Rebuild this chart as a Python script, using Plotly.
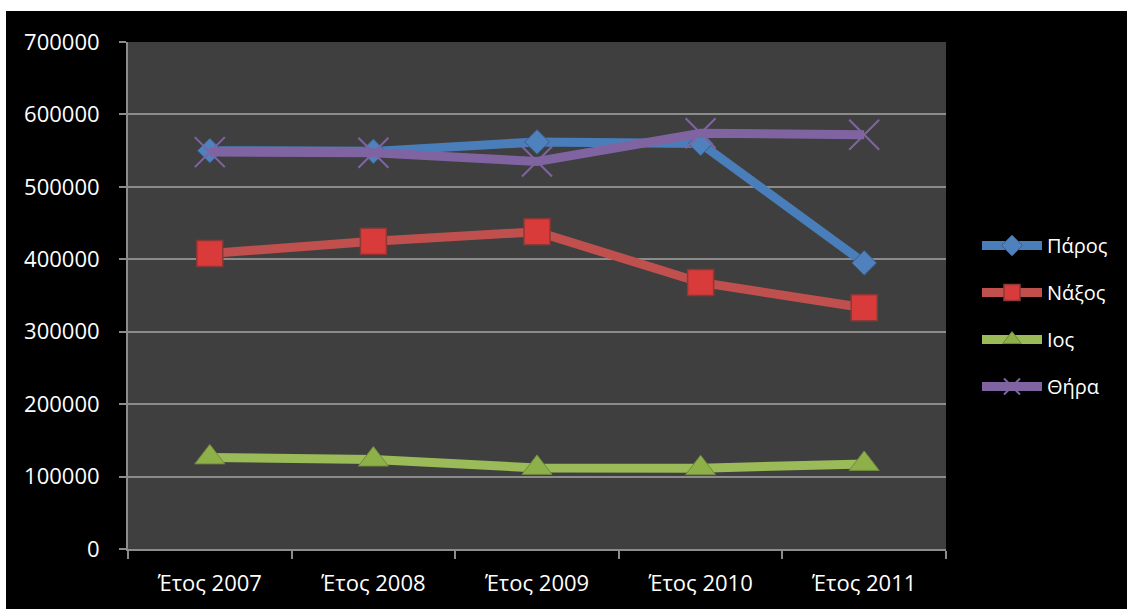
import plotly.graph_objects as go

# Annual figures per island
years = ["Έτος 2007", "Έτος 2008", "Έτος 2009", "Έτος 2010", "Έτος 2011"]
paros = [550000, 549000, 562000, 560000, 395000]
naxos = [408000, 425000, 438000, 368000, 333000]
ios = [126500, 123500, 112000, 111500, 117500]
thira = [548000, 547000, 535000, 574000, 572000]
y_ticks = [0, 100000, 200000, 300000, 400000, 500000, 600000, 700000]

W, H = 1127, 609
L, R, T, B = 128, 946, 42, 549  # plot area edges in pixels

FONT = "Open Sans"

fig = go.Figure()

series = [
    ("Πάρος", paros, "#4A7EBB", dict(symbol="diamond", size=19, color="#4F81BD",
                                     line=dict(color="#385D8A", width=1))),
    ("Νάξος", naxos, "#C0504D", dict(symbol="square", size=26, color="#D93B3B",
                                     line=dict(color="#8C3836", width=1.5))),
    ("Ιος", ios, "#9BBB59", dict(symbol="triangle-up", size=26, color="#8DB048",
                                 line=dict(color="#71893F", width=1))),
    ("Θήρα", thira, "#8064A2", dict(symbol="x-thin", size=30, color="#8064A2",
                                   line=dict(color="#8064A2", width=2))),
]

for i, (name, vals, lc, mk) in enumerate(series):
    fig.add_trace(go.Scatter(
        x=years, y=vals, name=name, mode="lines+markers",
        line=dict(color=lc, width=9),
        marker=mk,
        legendgroup=str(i),
    ))

# White strips along the left and top edges of the page
def px_x(p):
    return (p - L) / (R - L)

def px_y(p):
    return (B - p) / (B - T)

fig.add_shape(type="rect", xref="paper", yref="paper", layer="above",
              x0=px_x(0), x1=px_x(6), y0=px_y(H), y1=px_y(0),
              fillcolor="white", line=dict(width=0))
fig.add_shape(type="rect", xref="paper", yref="paper", layer="above",
              x0=px_x(0), x1=px_x(W), y0=px_y(11), y1=px_y(0),
              fillcolor="white", line=dict(width=0))

fig.update_layout(
    width=W, height=H,
    margin=dict(l=L, r=W - R, t=T, b=H - B, pad=0),
    paper_bgcolor="black",
    plot_bgcolor="#3F3F3F",
    font=dict(family=FONT, size=22, color="white"),
    showlegend=True,
    legend=dict(
        x=px_x(977), y=px_y(226), xanchor="left", yanchor="top",
        bgcolor="rgba(0,0,0,0)", font=dict(size=20, color="white"),
        itemwidth=60, tracegroupgap=18, traceorder="grouped",
    ),
    xaxis=dict(
        type="category", range=[-0.5, 4.5],
        showline=True, linecolor="#8C8C8C", linewidth=2,
        ticks="outside", tickson="boundaries", ticklen=8, tickwidth=2,
        tickcolor="#8C8C8C", showgrid=False, zeroline=False,
        ticklabelstandoff=14,
        tickfont=dict(family=FONT, size=22, color="white"),
    ),
    yaxis=dict(
        range=[0, 700000], tickvals=y_ticks,
        ticktext=[str(v) for v in y_ticks],
        showline=True, linecolor="#8C8C8C", linewidth=2,
        ticks="outside", ticklen=7, tickwidth=2, tickcolor="#8C8C8C",
        showgrid=True, gridcolor="#8C8C8C", gridwidth=2,
        zeroline=False, ticklabelstandoff=15,
        tickfont=dict(family=FONT, size=22, color="white"),
    ),
)

fig.write_html("out.html")
